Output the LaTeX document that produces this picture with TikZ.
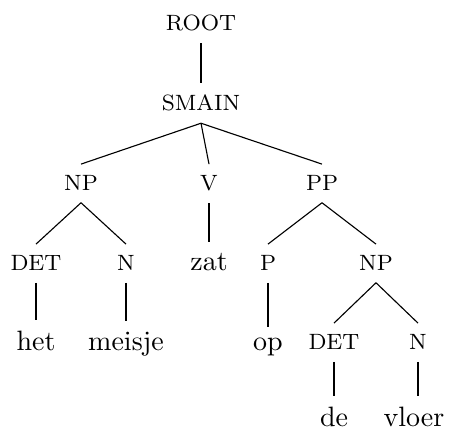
\documentclass[tikz,border=0pt]{standalone}
\begin{document}
\begin{tikzpicture}[x=0.357pt,y=-0.357pt,
  lab/.style={anchor=base,inner sep=4pt,font=\fontsize{7.9}{9.5}\selectfont},
  word/.style={anchor=base,inner sep=4pt},
  edge/.style={draw,line width=0.4pt}]
\useasboundingbox (0,0) rectangle (449,430);
\node[lab] (root) at (201,31) {ROOT};
\node[lab] (smain) at (201,111) {SMAIN};
\node[lab] (np1) at (81,191) {NP};
\node[lab] (v) at (209,191) {V};
\node[lab] (pp) at (322,191) {PP};
\node[lab] (det1) at (36,271) {DET};
\node[lab] (n1) at (126,271) {N};
\node[word] (zat) at (209,271) {zat};
\node[lab] (p) at (268,271) {P};
\node[lab] (np2) at (376,271) {NP};
\node[word] (het) at (36,351) {het};
\node[word] (meisje) at (126,351) {meisje};
\node[word] (op) at (268,351) {op};
\node[lab] (det2) at (334,350) {DET};
\node[lab] (n2) at (418,350) {N};
\node[word] (de) at (334,427) {de};
\node[word] (vloer) at (414,427) {vloer};
\path[edge] (root.south) -- (smain.north);
\path[edge] (smain.south) -- (np1.north);
\path[edge] (smain.south) -- (v.north);
\path[edge] (smain.south) -- (pp.north);
\path[edge] (np1.south) -- (det1.north);
\path[edge] (np1.south) -- (n1.north);
\path[edge] (v.south) -- (zat.north);
\path[edge] (pp.south) -- (p.north);
\path[edge] (pp.south) -- (np2.north);
\path[edge] (det1.south) -- (het.north);
\path[edge] (n1.south) -- (meisje.north);
\path[edge] (p.south) -- (op.north);
\path[edge] (np2.south) -- (det2.north);
\path[edge] (np2.south) -- (n2.north);
\path[edge] (det2.south) -- (de.north);
\path[edge] (n2.south) -- (n2.south |- vloer.north);
\end{tikzpicture}
\end{document}
